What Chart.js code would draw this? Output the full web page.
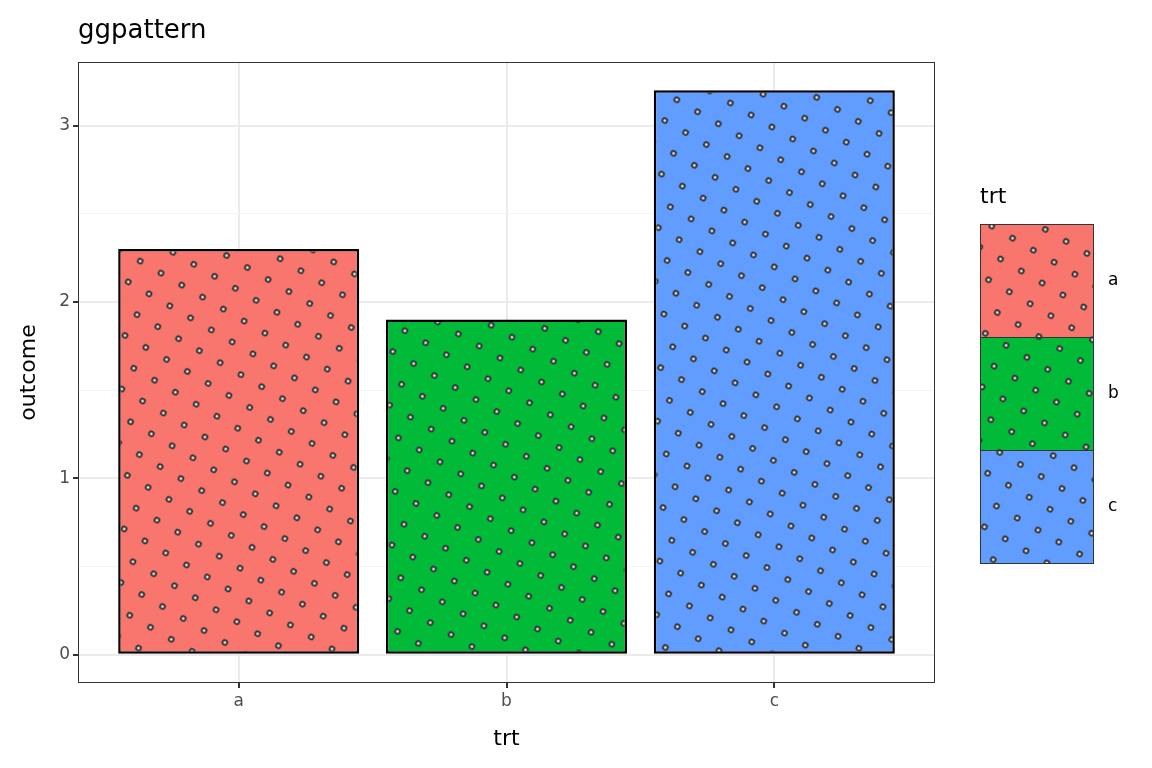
<!DOCTYPE html>
<html>
<head>
<meta charset="utf-8">
<script src="https://cdn.jsdelivr.net/npm/chart.js@4"></script>
<style>
  html, body { margin: 0; padding: 0; background: #fff; }
  #wrap { width: 1152px; height: 768px; }
</style>
</head>
<body>
<div id="wrap"><canvas id="c" width="1152" height="768"></canvas></div>
<script>
const categories = ['a', 'b', 'c'];
const outcome = [2.3, 1.9, 3.2];
const fills = ['#F8766D', '#00BA38', '#619CFF'];
const yTicks = [0, 0.5, 1, 1.5, 2, 2.5, 3];

// dotted fill like ggpattern 'circle'
function dotPattern(color) {
    const t = document.createElement('canvas');
    t.width = 24; t.height = 24;
    const g = t.getContext('2d');
    g.fillStyle = color;
    g.fillRect(0, 0, 24, 24);
    g.beginPath();
    g.arc(12, 12, 2.4, 0, Math.PI * 2);
    g.fillStyle = '#dddddd';
    g.fill();
    g.lineWidth = 1.8;
    g.strokeStyle = '#333333';
    g.stroke();
    const p = document.getElementById('c').getContext('2d').createPattern(t, 'repeat');
    p.setTransform(new DOMMatrix().rotateSelf(30));
    return p;
}
const patterns = fills.map(dotPattern);

const extras = {
    id: 'extras',
    afterDraw(chart) {
        const ctx = chart.ctx, a = chart.chartArea;
        ctx.save();
        ctx.strokeStyle = '#333333';
        ctx.lineWidth = 1;
        ctx.strokeRect(a.left + 0.5, a.top + 0.5, a.right - a.left - 1, a.bottom - a.top - 1);
        ctx.fillStyle = '#000';
        ctx.font = '26px "DejaVu Sans"';
        ctx.textBaseline = 'middle';
        ctx.fillText('ggpattern', 78, 31);
        // legend
        ctx.font = '22px "DejaVu Sans"';
        ctx.fillText('trt', 980, 197);
        ctx.font = '17px "DejaVu Sans"';
        categories.forEach((c, i) => {
            const y = 224 + i * 113;
            ctx.fillStyle = patterns[i];
            ctx.fillRect(980, y, 113, 113);
            ctx.strokeStyle = '#333';
            ctx.lineWidth = 1;
            ctx.strokeRect(980.5, y + 0.5, 113, 113);
            ctx.fillStyle = '#000';
            ctx.fillText(c, 1108, y + 57);
        });
        ctx.restore();
    }
};

new Chart(document.getElementById('c'), {
    type: 'bar',
    data: {
        datasets: [{
            data: outcome.map((v, i) => ({ x: i + 1, y: v })),
            backgroundColor: patterns,
            borderColor: '#000',
            borderWidth: 2.5,
            borderSkipped: false,
            barPercentage: 0.9,
            categoryPercentage: 1
        }]
    },
    options: {
        responsive: false,
        animation: false,
        layout: { padding: { top: 62, right: 217, left: 0, bottom: 0 } },
        plugins: { legend: { display: false }, tooltip: { enabled: false } },
        scales: {
            x: {
                type: 'linear', min: 0.4, max: 3.6, offset: false,
                afterBuildTicks: s => { s.ticks = [1, 2, 3].map(v => ({ value: v })); },
                afterFit: s => { s.height = 85; },
                ticks: { callback: v => categories[v - 1], color: '#4d4d4d', font: { size: 17, family: 'DejaVu Sans' }, padding: 3 },
                grid: { offset: false, color: '#ebebeb', lineWidth: 2, tickColor: '#333', tickLength: 5 },
                border: { display: false },
                title: { display: true, text: 'trt', color: '#000', font: { size: 22, family: 'DejaVu Sans' }, padding: { top: 0, bottom: 16 } }
            },
            y: {
                min: -0.16, max: 3.36,
                afterBuildTicks: s => { s.ticks = yTicks.map(v => ({ value: v })); },
                afterFit: s => { s.width = 78; },
                ticks: { callback: v => Number.isInteger(v) ? String(v) : '', color: '#4d4d4d', font: { size: 17, family: 'DejaVu Sans' }, padding: 3 },
                grid: {
                    color: c => Number.isInteger(c.tick.value) ? '#ebebeb' : '#f5f5f5',
                    lineWidth: c => Number.isInteger(c.tick.value) ? 2 : 1,
                    tickColor: c => Number.isInteger(c.tick.value) ? '#333' : 'rgba(0,0,0,0)',
                    tickLength: 5
                },
                border: { display: false },
                title: { display: true, text: 'outcome', color: '#000', font: { size: 22, family: 'DejaVu Sans' }, padding: { top: 16, bottom: 0 } }
            }
        }
    },
    plugins: [extras]
});
</script>
</body>
</html>
